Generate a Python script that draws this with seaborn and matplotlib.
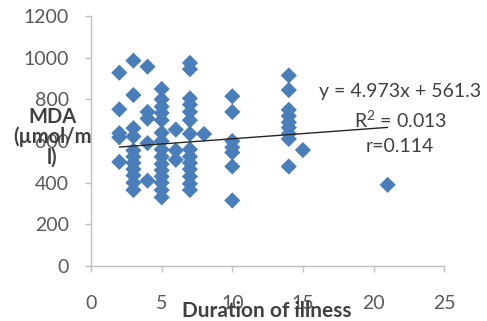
import numpy as np
import pandas as pd
import matplotlib
matplotlib.use("Agg")
import matplotlib.pyplot as plt
import seaborn as sns

# ---- data ----
duration = (
    [2] * 5 + [3] * 11 + [4] * 5 + [5] * 15 + [6] * 3 + [7] * 14 + [8] * 1
    + [10] * 7 + [14] * 9 + [15] * 1 + [21] * 1
)
mda = (
    [928, 752, 638, 618, 500]
    + [986, 821, 662, 622, 555, 525, 495, 465, 435, 400, 365]
    + [957, 740, 708, 590, 410]
    + [850, 800, 765, 735, 700, 640, 600, 560, 525, 490, 460, 430, 400, 365, 330]
    + [655, 555, 510]
    + [975, 945, 805, 775, 740, 700, 635, 560, 525, 495, 465, 430, 395, 365]
    + [634]
    + [815, 740, 600, 570, 545, 478, 315]
    + [915, 845, 750, 720, 690, 665, 635, 610, 478]
    + [557]
    + [390]
)
slope = 4.973
intercept = 561.3
eq_lines = ["y = 4.973x + 561.3", "R$^2$ = 0.013", "r=0.114"]
x_ticks = [0, 5, 10, 15, 20, 25]
y_ticks = [0, 200, 400, 600, 800, 1000, 1200]
x_label = "Duration of illness"
y_label = "MDA\n(\u00b5mol/m\nl)"

df = pd.DataFrame({"duration": duration, "mda": mda})

sns.set_style("white")
plt.rcParams["font.family"] = ["Lato", "DejaVu Sans"]
plt.rcParams["mathtext.fontset"] = "custom"
plt.rcParams["mathtext.rm"] = "Lato"

fig = plt.figure(figsize=(4.87, 3.21), dpi=100)
ax = fig.add_axes([0.187, 0.171, 0.725, 0.779])

sns.scatterplot(data=df, x="duration", y="mda", marker="D", s=68,
                color="#4A7EBB", edgecolor="none", ax=ax, zorder=3)

xs = np.array([min(duration), max(duration)])
ax.plot(xs, slope * xs + intercept, color="#262626", lw=1.0, zorder=4)

ax.set_xlim(0, 25)
ax.set_ylim(0, 1200)
ax.set_xticks(x_ticks)
ax.set_yticks(y_ticks)
ax.set_xlabel("")
ax.set_ylabel("")

for side in ["top", "right"]:
    ax.spines[side].set_visible(False)
for side in ["left", "bottom"]:
    ax.spines[side].set_color("#BFBFBF")
    ax.spines[side].set_linewidth(1.0)

ax.tick_params(axis="x", direction="out", length=4, width=1, color="#BFBFBF",
               labelsize=14, labelcolor="#595959", pad=17, bottom=True)
ax.tick_params(axis="y", direction="out", length=4, width=1, color="#BFBFBF",
               labelsize=14, labelcolor="#595959", pad=12, left=True)

fig.text(267 / 487, 1 - 311 / 321, x_label, ha="center", va="center",
         fontsize=15, fontweight="bold", color="#404040")
fig.text(52 / 487, 1 - 137 / 321, y_label, ha="center", va="center",
         fontsize=14.5, fontweight="bold", color="#404040", linespacing=1.0)

for i, line in enumerate(eq_lines):
    fig.text(400 / 487, 1 - (92 + 27.5 * i) / 321, line, ha="center",
             va="center", fontsize=14, color="#404040")

fig.savefig("out.png", dpi=100)
